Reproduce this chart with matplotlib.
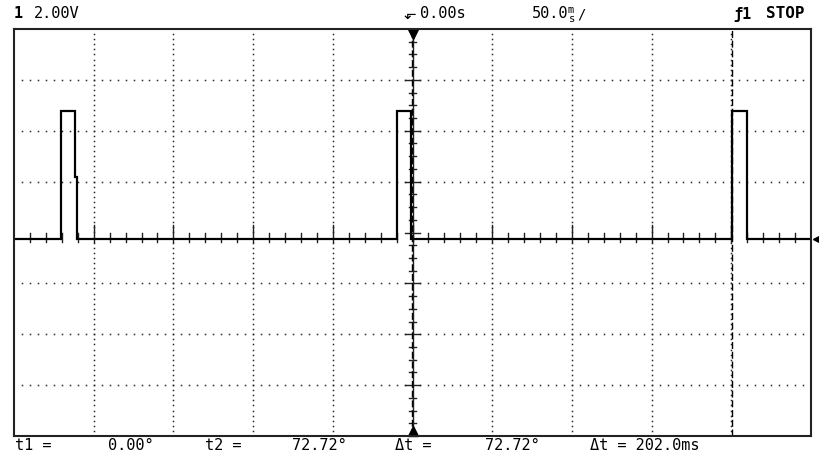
import matplotlib
matplotlib.use("Agg")
import matplotlib.pyplot as plt
import numpy as np

trace_t = [-250, -220.5, -220.5, -211.8, -211.8, -210.5, -210.5, -9.8, -9.8, -1.0, -1.0,
           200.7, 200.7, 209.8, 209.8, 250]            # ms
trace_v = [-0.24, -0.24, 4.79, 4.79, 2.2, 2.2, -0.24, -0.24, 4.79, 4.79, -0.24,
           -0.24, 4.79, 4.79, -0.24, -0.24]             # V
cursor_t1 = -0.5      # ms
cursor_t2 = 200.7     # ms
ground_level = -0.24  # V

top_left_channel = "1"
top_left_scale = "2.00V"
top_delay = "0.00s"
top_timebase = "50.0"
top_trigger = "ƒ1"
top_status = "STOP"
bottom_labels = ["t1 =", "0.00°", "t2 =", "72.72°", "Δt =", "72.72°", "Δt = 202.0ms"]

# ---- layout ----
W, H = 819, 454
fig = plt.figure(figsize=(W / 100, H / 100), dpi=100)
fig.patch.set_facecolor("white")
L, R, T, B = 14, 811, 29, 436
ax = fig.add_axes([L / W, 1 - B / H, (R - L) / W, (B - T) / H])
ax.set_xlim(-250, 250)
ax.set_ylim(-8, 8)
ax.set_xticks([]); ax.set_yticks([])
for s in ax.spines.values():
    s.set_linewidth(1.5)
    s.set_color("#222222")

dot_col = "#2a2a2a"
# dotted grid
hx = np.arange(-245, 250, 5.0)
for v in [-6, -4, -2, 2, 4, 6]:
    ax.plot(hx, np.full_like(hx, v), ls="none", marker="s", ms=1.1, color=dot_col, mew=0)
vy = np.arange(-7.8, 8, 0.2)
for t in [-200, -150, -100, -50, 50, 100, 150, 200]:
    ax.plot(np.full_like(vy, t), vy, ls="none", marker="s", ms=1.1, color=dot_col, mew=0)

# center vertical axis with ticks
ax.plot([0, 0], [-8, 8], color="#222222", lw=1.0)
for v in np.arange(-7.5, 8, 0.5):
    major = abs(v - round(v / 2) * 2) < 1e-6
    w = 5.0 if major else 2.5
    ax.plot([-w, w], [v, v], color="#222222", lw=1.0)
# center horizontal axis ticks (sit on the trace baseline)
for t in np.arange(-240, 250, 10.0):
    major = abs(t % 50) < 1e-6
    h = 0.3 if major else 0.0
    ax.plot([t, t], [ground_level - 0.12, h], color="#222222", lw=1.0)

# cursors
ax.plot([cursor_t1, cursor_t1], [-8, 8], color="black", lw=1.0, ls=(0, (5, 2)))
ax.plot([cursor_t2, cursor_t2], [-8, 8], color="black", lw=1.0, ls=(0, (5, 2)))

# trace
ax.plot(trace_t, trace_v, color="black", lw=1.6, solid_joinstyle="miter")

# markers
ax.plot([0], [7.8], marker="v", ms=7, color="black", clip_on=False)
ax.plot([0], [-7.8], marker="^", ms=7, color="black", clip_on=False)
ax.plot([253.5], [ground_level], marker="<", ms=6, color="black", clip_on=False)

# ---- text ----
mono = "DejaVu Sans Mono"
def ftext(x, y, s, size=10, weight="normal", ha="left", family=mono):
    fig.text(x / W, 1 - y / H, s, fontsize=size, fontweight=weight, ha=ha, va="center",
             family=family, color="black")

ftext(14, 14, top_left_channel, size=11, weight="bold")
ftext(34, 14, top_left_scale, size=11)
ftext(404, 14, "⬐", size=11, family=["DejaVu Sans", "Noto Sans CJK SC"])
ftext(420, 14, top_delay, size=11)
ftext(532, 14, top_timebase, size=11)
ftext(568, 10, "m", size=7.5)
ftext(569, 19, "s", size=7.5)
ftext(577, 14, "/", size=10)
ftext(733, 14, top_trigger, size=11, weight="bold")
ftext(766, 14, top_status, size=11.5, weight="bold")

bx = [15, 108, 205, 292, 395, 485, 590]
for x, s in zip(bx, bottom_labels):
    ftext(x, 446, s, size=11)

fig.savefig("out.png", dpi=100, facecolor="white")
